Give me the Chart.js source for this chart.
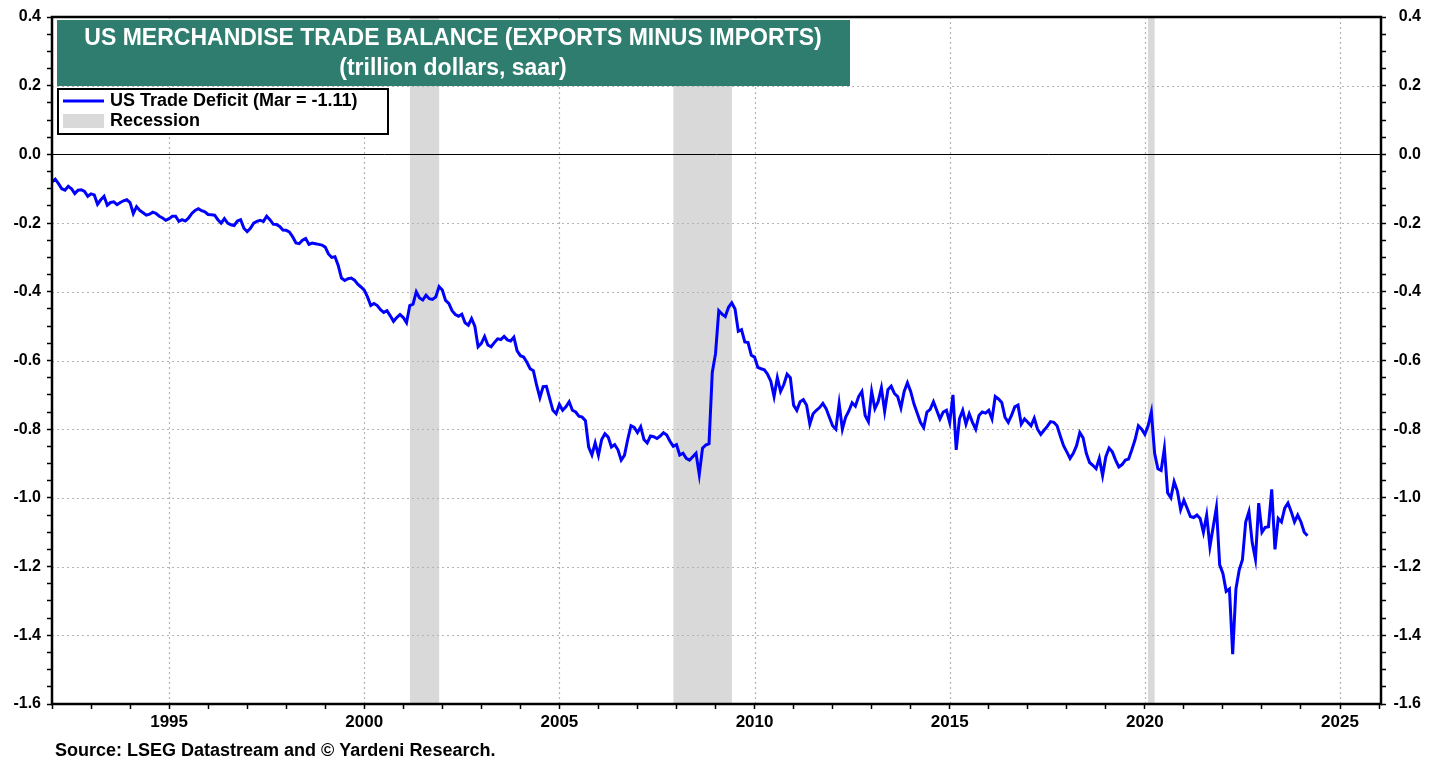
<!DOCTYPE html>
<html>
<head>
<meta charset="utf-8">
<title>US Merchandise Trade Balance</title>
<script src="https://cdn.jsdelivr.net/npm/chart.js@4.4.1/dist/chart.umd.min.js"></script>
<style>
  html, body { margin: 0; padding: 0; background: #fff; }
  #wrap { width: 1442px; height: 765px; }
</style>
</head>
<body>
<div id="wrap"><canvas id="tradeChart" width="1442" height="765"></canvas></div>
<script>
// monthly, trillion dollars saar, starting Jan 1992
const startYear = 1992;
const tradeBalance = [
  -0.080, -0.072, -0.085, -0.100, -0.104, -0.093, -0.100, -0.114, -0.104, -0.103, -0.108, -0.122, // 1992
  -0.115, -0.118, -0.145, -0.132, -0.122, -0.148, -0.140, -0.138, -0.146, -0.140, -0.135, -0.132, // 1993
  -0.140, -0.172, -0.152, -0.163, -0.170, -0.177, -0.174, -0.168, -0.172, -0.180, -0.185, -0.192, // 1994
  -0.187, -0.180, -0.180, -0.195, -0.190, -0.194, -0.185, -0.172, -0.163, -0.158, -0.164, -0.167, // 1995
  -0.175, -0.176, -0.177, -0.190, -0.200, -0.187, -0.200, -0.205, -0.207, -0.194, -0.190, -0.215, // 1996
  -0.225, -0.215, -0.200, -0.195, -0.192, -0.195, -0.180, -0.190, -0.203, -0.204, -0.210, -0.220, // 1997
  -0.221, -0.226, -0.240, -0.258, -0.260, -0.250, -0.245, -0.262, -0.258, -0.260, -0.262, -0.264, // 1998
  -0.270, -0.290, -0.300, -0.298, -0.323, -0.360, -0.367, -0.362, -0.360, -0.366, -0.378, -0.386, // 1999
  -0.395, -0.415, -0.440, -0.434, -0.440, -0.452, -0.460, -0.455, -0.470, -0.486, -0.475, -0.466, // 2000
  -0.475, -0.490, -0.440, -0.436, -0.400, -0.418, -0.424, -0.410, -0.420, -0.422, -0.415, -0.385, // 2001
  -0.395, -0.425, -0.434, -0.455, -0.466, -0.471, -0.465, -0.490, -0.497, -0.478, -0.500, -0.560, // 2002
  -0.550, -0.530, -0.555, -0.560, -0.548, -0.537, -0.539, -0.530, -0.540, -0.543, -0.532, -0.572, // 2003
  -0.586, -0.590, -0.605, -0.624, -0.630, -0.672, -0.708, -0.676, -0.675, -0.710, -0.745, -0.755, // 2004
  -0.728, -0.745, -0.735, -0.720, -0.745, -0.750, -0.762, -0.765, -0.775, -0.852, -0.875, -0.840, // 2005
  -0.876, -0.830, -0.813, -0.823, -0.852, -0.845, -0.860, -0.890, -0.876, -0.830, -0.790, -0.795, // 2006
  -0.810, -0.793, -0.830, -0.840, -0.820, -0.822, -0.827, -0.820, -0.810, -0.817, -0.835, -0.850, // 2007
  -0.845, -0.875, -0.870, -0.885, -0.890, -0.880, -0.870, -0.932, -0.855, -0.846, -0.842, -0.635, // 2008
  -0.580, -0.455, -0.465, -0.472, -0.445, -0.432, -0.450, -0.515, -0.510, -0.546, -0.548, -0.585, // 2009
  -0.590, -0.620, -0.624, -0.627, -0.640, -0.660, -0.705, -0.650, -0.690, -0.670, -0.640, -0.650, // 2010
  -0.730, -0.745, -0.720, -0.714, -0.730, -0.785, -0.755, -0.745, -0.737, -0.725, -0.740, -0.765, // 2011
  -0.790, -0.800, -0.725, -0.800, -0.765, -0.747, -0.723, -0.733, -0.705, -0.690, -0.760, -0.778, // 2012
  -0.690, -0.740, -0.720, -0.680, -0.748, -0.685, -0.675, -0.696, -0.705, -0.738, -0.690, -0.665, // 2013
  -0.690, -0.726, -0.753, -0.780, -0.795, -0.750, -0.742, -0.720, -0.745, -0.770, -0.750, -0.745, // 2014
  -0.780, -0.700, -0.860, -0.770, -0.745, -0.785, -0.755, -0.780, -0.800, -0.760, -0.750, -0.753, // 2015
  -0.745, -0.770, -0.705, -0.712, -0.722, -0.765, -0.780, -0.760, -0.735, -0.730, -0.785, -0.770, // 2016
  -0.780, -0.790, -0.768, -0.800, -0.815, -0.803, -0.792, -0.778, -0.780, -0.790, -0.820, -0.848, // 2017
  -0.866, -0.885, -0.870, -0.848, -0.810, -0.825, -0.870, -0.897, -0.905, -0.915, -0.885, -0.935, // 2018
  -0.880, -0.855, -0.866, -0.890, -0.910, -0.903, -0.890, -0.887, -0.860, -0.830, -0.790, -0.800, // 2019
  -0.815, -0.790, -0.750, -0.870, -0.915, -0.920, -0.856, -0.985, -1.000, -0.953, -0.980, -1.034, // 2020
  -1.007, -1.030, -1.054, -1.057, -1.050, -1.060, -1.100, -1.050, -1.142, -1.085, -1.028, -1.195, // 2021
  -1.220, -1.272, -1.265, -1.455, -1.265, -1.210, -1.180, -1.070, -1.040, -1.130, -1.178, -1.015, // 2022
  -1.100, -1.086, -1.084, -0.975, -1.150, -1.060, -1.070, -1.030, -1.015, -1.040, -1.070, -1.050, // 2023
  -1.070, -1.100, -1.110                                                                          // 2024
];

// NBER recessions as decimal years
const recessionStart = [2001.17, 2007.92, 2020.08];
const recessionEnd = [2001.92, 2009.42, 2020.25];

const xTickLabels = [1995, 2000, 2005, 2010, 2015, 2020, 2025];
const yTickLabels = [0.4, 0.2, 0.0, -0.2, -0.4, -0.6, -0.8, -1.0, -1.2, -1.4, -1.6];

const titleLines = ["US MERCHANDISE TRADE BALANCE (EXPORTS MINUS IMPORTS)", "(trillion dollars, saar)"];
const seriesLabel = "US Trade Deficit (Mar = -1.11)";
const sourceText = "Source: LSEG Datastream and \u00A9 Yardeni Research.";

const FONT = '"Liberation Sans", Arial, Helvetica, sans-serif';
const gridColor = "#b4b4b4";

Chart.defaults.font.family = FONT;
Chart.defaults.color = "#000";

function isMajorY(v) {
  return yTickLabels.some((t) => Math.abs(t - v) < 1e-6);
}

function buildYTicks(scale) {
  scale.ticks = [];
  for (let i = 0; i <= 40; i++) {
    scale.ticks.push({ value: Math.round((-1.6 + i * 0.05) * 100) / 100 });
  }
}

function yAxis(position, width, padding, crossAlign) {
  return {
    position: position,
    min: -1.6,
    max: 0.4,
    afterBuildTicks: buildYTicks,
    afterFit: (scale) => { scale.width = width; },
    ticks: {
      autoSkip: false,
      padding: padding,
      crossAlign: crossAlign,
      color: "#000",
      font: { size: 16, weight: "bold" },
      callback: (v) => isMajorY(v) ? (Math.abs(v) < 1e-6 ? "0.0" : v.toFixed(1)) : ""
    },
    grid: {
      drawOnChartArea: false,
      tickColor: "#000",
      tickLength: 5,
      tickWidth: 1.5
    },
    border: { display: false }
  };
}

const decorations = {
  id: "decorations",
  beforeDraw(chart) {
    const { ctx, chartArea: a, scales } = chart;
    ctx.save();
    ctx.fillStyle = "#fff";
    ctx.fillRect(0, 0, chart.width, chart.height);
    ctx.fillStyle = "#d9d9d9";
    recessionStart.forEach((s, i) => {
      const x0 = scales.x.getPixelForValue(s);
      const x1 = scales.x.getPixelForValue(recessionEnd[i]);
      ctx.fillRect(x0, a.top, x1 - x0, a.bottom - a.top);
    });
    ctx.restore();
  },
  beforeDatasetsDraw(chart) {
    const { ctx, chartArea: a, scales } = chart;
    ctx.save();
    // dotted grid at labelled ticks
    ctx.strokeStyle = gridColor;
    ctx.lineWidth = 1.2;
    ctx.setLineDash([2, 3]);
    ctx.beginPath();
    xTickLabels.forEach((yr) => {
      const px = Math.round(scales.x.getPixelForValue(yr)) + 0.5;
      ctx.moveTo(px, a.top);
      ctx.lineTo(px, a.bottom);
    });
    yTickLabels.forEach((v) => {
      if (Math.abs(v) < 1e-6) return;
      const py = Math.round(scales.y.getPixelForValue(v)) + 0.5;
      ctx.moveTo(a.left, py);
      ctx.lineTo(a.right, py);
    });
    ctx.stroke();

    // solid zero line
    ctx.setLineDash([]);
    const y0 = Math.round(scales.y.getPixelForValue(0)) + 0.5;
    ctx.strokeStyle = "#000";
    ctx.lineWidth = 1;
    ctx.beginPath();
    ctx.moveTo(a.left, y0);
    ctx.lineTo(a.right, y0);
    ctx.stroke();
    ctx.restore();
  },
  afterDraw(chart) {
    const { ctx, chartArea: a } = chart;
    ctx.save();

    // frame
    ctx.strokeStyle = "#000";
    ctx.lineWidth = 2.5;
    ctx.strokeRect(a.left, a.top, a.right - a.left, a.bottom - a.top);

    // title box
    ctx.fillStyle = "#2e7d6f";
    ctx.fillRect(57, 20, 793, 66);
    ctx.fillStyle = "#fff";
    ctx.textAlign = "center";
    ctx.textBaseline = "middle";
    ctx.font = "bold 23px " + FONT;
    ctx.fillText(titleLines[0], 453, 39);
    ctx.fillText(titleLines[1], 453, 69);

    // legend
    ctx.fillStyle = "#fff";
    ctx.fillRect(58, 89, 330, 45);
    ctx.strokeStyle = "#000";
    ctx.lineWidth = 2;
    ctx.strokeRect(58, 89, 330, 45);
    ctx.strokeStyle = "#0000ff";
    ctx.lineWidth = 3;
    ctx.beginPath();
    ctx.moveTo(63, 101);
    ctx.lineTo(104, 101);
    ctx.stroke();
    ctx.fillStyle = "#d9d9d9";
    ctx.fillRect(63, 114, 41, 14);
    ctx.fillStyle = "#000";
    ctx.textAlign = "left";
    ctx.font = "bold 18px " + FONT;
    ctx.fillText(seriesLabel, 110, 101);
    ctx.fillText("Recession", 110, 121);

    // source
    ctx.font = "bold 18px " + FONT;
    ctx.fillText(sourceText, 55, 751);
    ctx.restore();
  }
};

const ctx = document.getElementById("tradeChart").getContext("2d");
const tradeChart = new Chart(ctx, {
  type: "line",
  data: {
    datasets: [{
      label: seriesLabel,
      data: tradeBalance.map((v, i) => ({ x: startYear + i / 12, y: v })),
      borderColor: "#0000ff",
      borderWidth: 3,
      pointRadius: 0,
      tension: 0,
      fill: false,
      yAxisID: "y"
    }]
  },
  options: {
    responsive: false,
    animation: false,
    devicePixelRatio: 1,
    layout: { padding: { top: 17, left: 0, right: 21, bottom: 0 } },
    plugins: {
      legend: { display: false },
      tooltip: { enabled: false }
    },
    scales: {
      x: {
        type: "linear",
        position: "bottom",
        min: 1992,
        max: 2026.05,
        afterBuildTicks: (scale) => {
          scale.ticks = [];
          for (let yr = 1992; yr <= 2026; yr++) scale.ticks.push({ value: yr });
        },
        afterFit: (scale) => { scale.height = 61; },
        ticks: {
          autoSkip: false,
          maxRotation: 0,
          padding: 3,
          color: "#000",
          font: { size: 17, weight: "bold" },
          callback: (v) => xTickLabels.includes(v) ? String(v) : ""
        },
        grid: {
          drawOnChartArea: false,
          tickColor: "#000",
          tickLength: 5,
          tickWidth: 1.5
        },
        border: { display: false }
      },
      y: yAxis("left", 52, 6, "near"),
      y2: yAxis("right", 40, 3, "far")
    }
  },
  plugins: [decorations]
});
</script>
</body>
</html>
